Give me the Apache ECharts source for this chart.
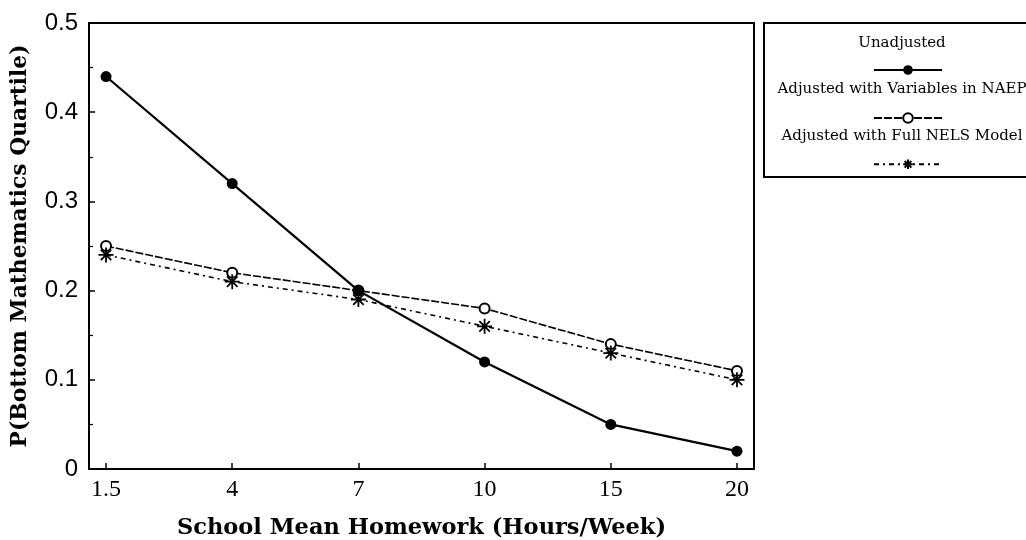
<!DOCTYPE html>
<html>
<head>
<meta charset="utf-8">
<script src="https://cdn.jsdelivr.net/npm/echarts@6/dist/echarts.min.js"></script>
<style>
  html, body { margin: 0; padding: 0; background: #fff; }
  #chart { width: 1026px; height: 540px; }
</style>
</head>
<body>
<div id="chart"></div>
<script>
// Homework hours per week (evenly spaced categories)
const categories = ['1.5', '4', '7', '10', '15', '20'];
const unadjusted = [0.44, 0.32, 0.20, 0.12, 0.05, 0.02];
const adjustedNaep = [0.25, 0.22, 0.20, 0.18, 0.14, 0.11];
const adjustedNels = [0.24, 0.21, 0.19, 0.16, 0.13, 0.10];
const yTicks = [0, 0.1, 0.2, 0.3, 0.4, 0.5];

const seriesNames = [
  'Unadjusted',
  'Adjusted with Variables in NAEP',
  'Adjusted with Full NELS Model'
];

const idx = categories.map((_, i) => i);
const pairs = arr => arr.map((v, i) => [i, v]);

const asterisk = 'path://M0,-10L0,10M-10,0L10,0M-7,-7L7,7M-7,7L7,-7';
const serif = 'DejaVu Serif';

const chart = echarts.init(document.getElementById('chart'), null, { renderer: 'canvas' });

const legendBase = {
  orient: 'horizontal',
  left: 868,
  itemWidth: 68,
  itemHeight: 12,
  itemGap: 0,
  selectedMode: false,
  formatter: () => '',
  textStyle: { fontSize: 1 }
};

const legendLabel = (text, y) => ({
  type: 'text', x: 902, y: y,
  style: {
    text: text, fontFamily: serif, fontSize: 15, fill: '#000',
    textAlign: 'center', textVerticalAlign: 'middle'
  }
});

chart.setOption({
  backgroundColor: '#fff',
  animation: false,
  grid: { left: 89, top: 23, right: 272, bottom: 71, containLabel: false, outerBoundsMode: 'none' },
  xAxis: [
    {
      type: 'value',
      min: -0.135,
      max: 5.135,
      name: 'School Mean Homework (Hours/Week)',
      nameLocation: 'middle',
      nameGap: 48,
      nameTextStyle: { fontFamily: serif, fontWeight: 'bold', fontSize: 22.5, color: '#000' },
      axisLine: { show: true, onZero: false, lineStyle: { color: '#000', width: 2 } },
      axisTick: { show: true, inside: true, length: 6, customValues: idx, lineStyle: { color: '#000', width: 1.5 } },
      axisLabel: {
        customValues: idx,
        formatter: v => categories[Math.round(v)],
        fontFamily: 'Liberation Serif', fontSize: 24, color: '#000', margin: 9
      },
      splitLine: { show: false }
    },
    {
      type: 'value', position: 'top', min: -0.135, max: 5.135,
      axisLine: { show: true, onZero: false, lineStyle: { color: '#000', width: 2 } },
      axisTick: { show: false }, axisLabel: { show: false }, splitLine: { show: false }
    }
  ],
  yAxis: [
    {
      type: 'value',
      min: 0,
      max: 0.5,
      interval: 0.1,
      name: 'P(Bottom Mathematics Quartile)',
      nameLocation: 'middle',
      nameGap: 58,
      nameTextStyle: { fontFamily: serif, fontWeight: 'bold', fontSize: 21.8, color: '#000' },
      axisLine: { show: true, onZero: false, lineStyle: { color: '#000', width: 2 } },
      axisTick: { show: true, inside: true, length: 6, lineStyle: { color: '#000', width: 1.5 } },
      minorTick: { show: true, splitNumber: 2, length: 4, lineStyle: { color: '#000', width: 1.2 } },
      axisLabel: {
        customValues: yTicks,
        formatter: v => (v === 0 ? '0' : v.toFixed(1)),
        fontFamily: 'Liberation Sans', fontSize: 24, color: '#000', margin: 11
      },
      splitLine: { show: false }
    },
    {
      type: 'value', position: 'right', min: 0, max: 0.5, interval: 0.1,
      axisLine: { show: true, onZero: false, lineStyle: { color: '#000', width: 2 } },
      axisTick: { show: false }, axisLabel: { show: false }, splitLine: { show: false }
    }
  ],
  legend: [
    Object.assign({}, legendBase, { data: [seriesNames[0]], top: 59 }),
    Object.assign({}, legendBase, { data: [seriesNames[1]], top: 107 }),
    Object.assign({}, legendBase, { data: [seriesNames[2]], top: 152 })
  ],
  graphic: [
    {
      type: 'rect',
      shape: { x: 764, y: 23, width: 300, height: 154 },
      style: { fill: 'none', stroke: '#000', lineWidth: 2 }
    },
    legendLabel(seriesNames[0], 43),
    legendLabel(seriesNames[1], 89),
    legendLabel(seriesNames[2], 136)
  ],
  series: [
    {
      name: seriesNames[0],
      type: 'line',
      data: pairs(unadjusted),
      symbol: 'circle',
      symbolSize: 11,
      lineStyle: { color: '#000', width: 2.2 },
      itemStyle: { color: '#000' },
      z: 3
    },
    {
      name: seriesNames[1],
      type: 'line',
      data: pairs(adjustedNaep),
      symbol: 'emptyCircle',
      symbolSize: 10,
      lineStyle: { color: '#000', width: 1.6, type: [8, 2] },
      itemStyle: { color: '#000', borderColor: '#000', borderWidth: 1.6 },
      z: 2
    },
    {
      name: seriesNames[2],
      type: 'line',
      data: pairs(adjustedNels),
      symbol: asterisk,
      symbolSize: 15,
      lineStyle: { color: '#000', width: 1.6, type: [5, 4, 2, 4] },
      itemStyle: { color: 'none', borderColor: '#000', borderWidth: 1.8 },
      z: 2
    }
  ]
});
</script>
</body>
</html>
